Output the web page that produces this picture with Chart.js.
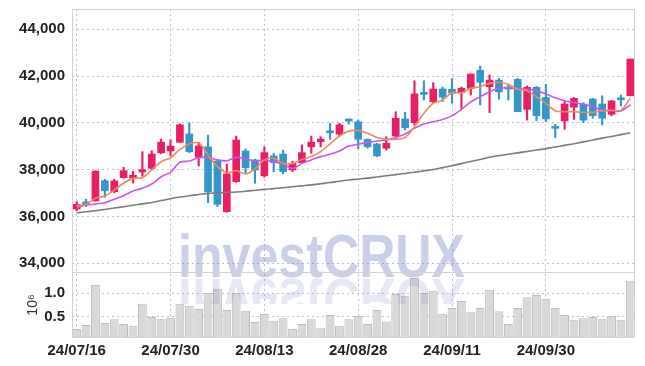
<!DOCTYPE html>
<html>
<head>
<meta charset="utf-8">
<script src="https://cdn.jsdelivr.net/npm/chart.js@4.4.1/dist/chart.umd.min.js"></script>
<style>
  html, body { margin: 0; padding: 0; background: #fff; }
  #wrap { width: 645px; height: 366px; }
</style>
</head>
<body>
<div id="wrap"><canvas id="chart"></canvas></div>
<script>
// trading days 2024-07-16 .. 2024-10-16
const dates = [
  '24/07/16','24/07/17','24/07/18','24/07/19','24/07/22','24/07/23','24/07/24','24/07/25','24/07/26','24/07/29',
  '24/07/30','24/07/31','24/08/01','24/08/02','24/08/05','24/08/06','24/08/07','24/08/08','24/08/09','24/08/12',
  '24/08/13','24/08/14','24/08/16','24/08/19','24/08/20','24/08/21','24/08/22','24/08/23','24/08/26','24/08/27',
  '24/08/28','24/08/29','24/08/30','24/09/02','24/09/03','24/09/04','24/09/05','24/09/06','24/09/09','24/09/10',
  '24/09/11','24/09/12','24/09/13','24/09/19','24/09/20','24/09/23','24/09/24','24/09/25','24/09/26','24/09/27',
  '24/09/30','24/10/02','24/10/04','24/10/07','24/10/08','24/10/10','24/10/11','24/10/14','24/10/15','24/10/16'
];

const opens = [
  36320, 36620, 36670, 37530, 37060, 37660, 37640, 37900, 38060, 38720,
  38800, 39170, 39530, 38530, 38980, 38370, 36210, 37490, 38800, 38420,
  37740, 38590, 38670, 37990, 38300, 38980, 39200, 39620, 39520, 40120,
  40050, 39300, 39100, 38920, 39440, 40170, 40010, 41250, 40910, 41450,
  41440, 41310, 41480, 42250, 41550, 41830, 41500, 41860, 40580, 41520,
  41090, 39810, 40090, 40670, 40800, 41020, 40810, 40370, 41020, 41160
];
const highs = [
  36630, 36740, 37960, 37590, 37590, 38100, 37930, 38770, 38810, 39310,
  39280, 39960, 40010, 39170, 39480, 38400, 38240, 39440, 38890, 38450,
  38980, 38700, 38840, 38370, 39060, 39440, 39410, 39980, 39980, 40170,
  40120, 39320, 39130, 39410, 40480, 40460, 41800, 41800, 41720, 41530,
  41900, 41530, 42090, 42430, 42050, 41900, 41620, 41900, 41580, 41560,
  41650, 39950, 40910, 41090, 40870, 41050, 41160, 40960, 41190, 42730
];
const lows = [
  36240, 36420, 36650, 36820, 37020, 37640, 37430, 37720, 37990, 38680,
  38590, 39170, 38730, 38160, 36590, 36420, 36180, 37460, 37850, 37420,
  37680, 37910, 37820, 37920, 38270, 38700, 38980, 39300, 39440, 39950,
  38900, 38920, 38560, 38840, 39340, 39700, 39910, 40980, 40840, 40910,
  40840, 40620, 41190, 40770, 40440, 41010, 40980, 40480, 40120, 40090,
  40050, 39380, 39730, 40150, 40010, 40200, 39910, 40300, 40720, 41160
];
const closes = [
  36520, 36510, 37940, 37100, 37520, 37960, 37760, 38000, 38670, 39180,
  39010, 39920, 38770, 39010, 37060, 36520, 37820, 39270, 38090, 37990,
  38730, 38300, 37920, 38270, 38730, 39180, 39310, 39580, 39920, 40080,
  39300, 38980, 38590, 39130, 40200, 39800, 41240, 41220, 41450, 41100,
  41270, 41480, 42090, 41740, 41830, 41330, 41450, 40480, 41520, 40310,
  40170, 39770, 40810, 41050, 40120, 40310, 40200, 40940, 40990, 42730
];

const ma5 = [
  36460, 36520, 36780, 36880, 37130, 37420, 37630, 37660, 37990, 38340,
  38510, 38870, 39100, 39140, 38630, 38130, 37870, 37960, 37820, 38040,
  38420, 38490, 38270, 38270, 38440, 38560, 38770, 39100, 39440, 39650,
  39670, 39560, 39380, 39300, 39300, 39380, 39840, 40410, 40840, 40980,
  41290, 41290, 41480, 41550, 41690, 41740, 41650, 41440, 41380, 41120,
  40840, 40520, 40480, 40480, 40450, 40450, 40520, 40540, 40550, 41050
];
const ma20 = [
  36380, 36490, 36530, 36590, 36740, 36890, 37090, 37210, 37390, 37700,
  37890, 38320, 38370, 38510, 38530, 38420, 38380, 38530, 38460, 38380,
  38410, 38340, 38240, 38050, 38270, 38420, 38560, 38660, 38800, 39010,
  39090, 39160, 39230, 39270, 39380, 39530, 39770, 39950, 40050, 40150,
  40300, 40580, 40900, 41120, 41330, 41480, 41500, 41450, 41440, 41380,
  41240, 41080, 40950, 40870, 40800, 40700, 40550, 40520, 40510, 40770
];
const ma60 = [
  36160, 36200, 36250, 36300, 36360, 36420, 36480, 36540, 36600, 36680,
  36760, 36830, 36890, 36940, 36990, 37010, 37030, 37050, 37080, 37120,
  37160, 37190, 37230, 37270, 37310, 37350, 37400, 37450, 37510, 37560,
  37600, 37640, 37690, 37740, 37790, 37840, 37890, 37950, 38010, 38090,
  38170, 38260, 38350, 38440, 38530, 38600, 38660, 38720, 38780, 38840,
  38900, 38970, 39040, 39110, 39190, 39270, 39350, 39420, 39500, 39580
];

// volume, in millions of shares
const volumes = [
  0.23, 0.32, 1.17, 0.36, 0.44, 0.34, 0.30, 0.77, 0.49, 0.45,
  0.47, 0.77, 0.73, 0.66, 1.00, 1.09, 0.64, 1.00, 0.62, 0.38,
  0.55, 0.41, 0.46, 0.23, 0.34, 0.44, 0.25, 0.53, 0.30, 0.44,
  0.51, 0.34, 0.64, 0.39, 0.98, 0.94, 1.32, 1.00, 1.05, 0.56,
  0.68, 0.83, 0.59, 0.68, 1.07, 0.61, 0.34, 0.68, 0.91, 0.96,
  0.88, 0.68, 0.53, 0.43, 0.46, 0.49, 0.45, 0.51, 0.43, 1.26
];

const priceTicks = [34000, 36000, 38000, 40000, 42000, 44000];
const volumeTicks = [0.5, 1.0];

const UP = '#e91e63';
const DOWN = '#3398c9';
const GRID = 'rgba(185, 188, 212, 0.95)';
const FRAME = '#d2d2d2';
const TICK_FONT = { family: "'Liberation Sans Narrow', 'Liberation Sans', Arial, sans-serif", size: 15, weight: 'bold' };

const candleColors = closes.map((c, i) => c >= opens[i] ? UP : DOWN);

const frame = {
  id: 'frame',
  afterDraw(chart) {
    const { ctx, chartArea } = chart;
    const priceBottom = chart.scales.y.bottom;
    ctx.save();
    ctx.strokeStyle = FRAME;
    ctx.lineWidth = 1;
    ctx.strokeRect(chartArea.left + 0.5, chartArea.top + 0.5,
      chartArea.right - chartArea.left - 1, chartArea.bottom - chartArea.top - 1);
    ctx.beginPath();
    ctx.moveTo(chartArea.left, Math.round(priceBottom) + 0.5);
    ctx.lineTo(chartArea.right, Math.round(priceBottom) + 0.5);
    ctx.stroke();
    ctx.restore();
  }
};

const watermark = {
  id: 'watermark',
  afterDatasetsDraw(chart) {
    const { ctx } = chart;
    const text = 'investCRUX';
    const left = 178, base = 277, width = 287;
    ctx.save();
    ctx.font = "bold 61px 'Liberation Sans', Arial, sans-serif";
    const sx = width / ctx.measureText(text).width;
    ctx.textBaseline = 'alphabetic';
    ctx.fillStyle = 'rgba(110, 125, 195, 0.36)';
    ctx.save();
    ctx.translate(left, base);
    ctx.scale(sx, 1);
    ctx.fillText(text, 0, 0);
    ctx.restore();
    // faded reflection under the baseline
    ctx.beginPath();
    ctx.rect(left - 5, base + 1, width + 10, 26);
    ctx.clip();
    const g = ctx.createLinearGradient(0, base, 0, base + 26);
    g.addColorStop(0, 'rgba(110, 125, 195, 0.18)');
    g.addColorStop(1, 'rgba(110, 125, 195, 0.0)');
    ctx.fillStyle = g;
    ctx.translate(left, base + 2);
    ctx.scale(sx, -1);
    ctx.fillText(text, 0, 0);
    ctx.restore();
  }
};

// fixed axis box, no extra padding for the end labels
const fitLeftAxis = (s) => {
  s.width = 72;
  s.paddingTop = 0;
  s.paddingBottom = 0;
};

const ctx = document.getElementById('chart');
new Chart(ctx, {
  data: {
    labels: dates,
    datasets: [
      {
        type: 'line', label: 'MA5', data: ma5, yAxisID: 'y',
        borderColor: '#f08a58', borderWidth: 1.6, pointRadius: 0, tension: 0.35, order: 1
      },
      {
        type: 'line', label: 'MA20', data: ma20, yAxisID: 'y',
        borderColor: '#cc55ee', borderWidth: 1.6, pointRadius: 0, tension: 0.35, order: 1
      },
      {
        type: 'line', label: 'MA60', data: ma60, yAxisID: 'y',
        borderColor: '#7c7c7c', borderWidth: 1.6, pointRadius: 0, tension: 0.35, order: 1
      },
      {
        type: 'bar', label: 'wick', yAxisID: 'y', grouped: false,
        data: lows.map((l, i) => [l, highs[i]]),
        backgroundColor: candleColors, barThickness: 1.5, order: 3
      },
      {
        type: 'bar', label: 'body', yAxisID: 'y', grouped: false,
        data: opens.map((o, i) => [o, closes[i]]),
        backgroundColor: candleColors, barThickness: 7, minBarLength: 2, order: 2
      },
      {
        type: 'bar', label: 'volume', yAxisID: 'yv', grouped: false,
        data: volumes,
        backgroundColor: '#d9d9d9', borderColor: '#bcbcbc', borderWidth: 1,
        categoryPercentage: 1, barPercentage: 0.94, order: 4
      }
    ]
  },
  options: {
    responsive: true,
    maintainAspectRatio: false,
    animation: false,
    layout: { padding: { top: 9, right: 10, left: 0, bottom: 0 } },
    plugins: { legend: { display: false }, tooltip: { enabled: false } },
    scales: {
      x: {
        type: 'category',
        grid: {
          offset: false,
          drawTicks: false,
          color: (c) => c.index % 10 === 0 ? GRID : 'rgba(0,0,0,0)'
        },
        border: { display: false, dash: [2, 3] },
        ticks: {
          autoSkip: false, maxRotation: 0, padding: 4,
          color: '#222', font: TICK_FONT,
          callback: (v, i) => i % 10 === 0 ? dates[i] : ''
        },
        afterFit: (s) => { s.height = 28; }
      },
      y: {
        position: 'left', stack: 'panes', stackWeight: 3.98, weight: 2,
        min: 33630, max: 44870,
        grid: { color: GRID, drawTicks: false },
        border: { display: false, dash: [2, 3] },
        ticks: {
          padding: 7, color: '#222', font: TICK_FONT,
          callback: (v) => v.toLocaleString('en-US')
        },
        afterBuildTicks: (s) => { s.ticks = priceTicks.map(v => ({ value: v })); },
        afterFit: fitLeftAxis
      },
      yv: {
        position: 'left', stack: 'panes', stackWeight: 1, weight: 1,
        min: 0.04, max: 1.45,
        grid: { color: GRID, drawTicks: false },
        border: { display: false, dash: [2, 3] },
        ticks: {
          padding: 7, color: '#222', font: TICK_FONT,
          callback: (v) => v.toFixed(1)
        },
        afterBuildTicks: (s) => { s.ticks = volumeTicks.map(v => ({ value: v })); },
        title: {
          display: true, text: '10⁶', color: '#333',
          font: { family: "'Liberation Sans', Arial, sans-serif", size: 14 },
          padding: { top: 25, bottom: 0 }
        },
        afterFit: fitLeftAxis
      }
    }
  },
  plugins: [frame, watermark]
});
</script>
</body>
</html>
